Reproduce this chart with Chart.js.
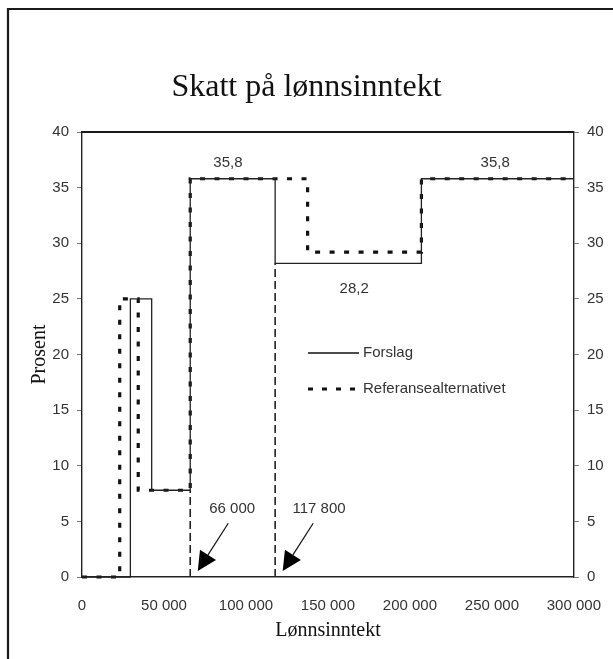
<!DOCTYPE html>
<html lang="no">
<head>
<meta charset="utf-8">
<title>Skatt på lønnsinntekt</title>
<script src="https://cdn.jsdelivr.net/npm/chart.js@4.4.1/dist/chart.umd.min.js"></script>
<style>
  html, body { margin: 0; padding: 0; background: #fff; }
  #wrap { width: 613px; height: 659px; position: relative; }
</style>
</head>
<body>
<div id="wrap"><canvas id="chart"></canvas></div>
<script>
// Step series: value holds from each x until the next one
const forslagX = [0, 29500, 42500, 66000, 117800, 207000, 300000];
const forslagY = [0, 25, 7.8, 35.8, 28.2, 35.8, 35.8];
const referanseX = [0, 23000, 34300, 66000, 137600, 207000, 300000];
const referanseY = [0, 25, 7.8, 35.8, 29.2, 35.8, 35.8];

// Thresholds marked with dashed guide lines and arrows
const thresholdX = [66000, 117800];
const thresholdTop = [7.8, 28.2];
const thresholdLabels = ["66 000", "117 800"];

const valueLabels = ["35,8", "28,2", "35,8"];
const yTicks = [0, 5, 10, 15, 20, 25, 30, 35, 40];

const SANS = "'Liberation Sans', Arial, sans-serif";
const SERIF = "'Liberation Serif', 'Times New Roman', serif";

// hold each value until the next x, so the jump sits at the next point
function toSteps(xs, ys) {
  const pts = [];
  xs.forEach((x, i) => {
    if (i > 0) pts.push({ x, y: ys[i - 1] });
    pts.push({ x, y: ys[i] });
  });
  return pts;
}

function formatThousands(v) {
  return String(v).replace(/\B(?=(\d{3})+(?!\d))/g, " ");
}

// where the annotations sit, in data units
const valueLabelPos = [
  { x: 89000, y: 37.2 },
  { x: 166000, y: 25.9 },
  { x: 252000, y: 37.2 },
];
const arrowPos = [
  { label: { x: 91600, y: 6.1 }, from: { x: 89200, y: 4.83 }, to: { x: 70600, y: 0.55 } },
  { label: { x: 144600, y: 6.1 }, from: { x: 141000, y: 4.83 }, to: { x: 122400, y: 0.55 } },
];

const pageFrame = {
  id: "pageFrame",
  beforeDraw(chart) {
    const ctx = chart.ctx;
    ctx.save();
    ctx.fillStyle = "#fff";
    ctx.fillRect(0, 0, chart.width, chart.height);
    ctx.strokeStyle = "#1a1a1a";
    ctx.lineWidth = 2.2;
    ctx.beginPath();
    ctx.moveTo(8, chart.height + 2);
    ctx.lineTo(8, 9);
    ctx.lineTo(chart.width + 2, 9);
    ctx.stroke();
    ctx.restore();
  },
  beforeDatasetsDraw(chart) {
    const { ctx, chartArea: a } = chart;
    ctx.save();
    ctx.strokeStyle = "#1a1a1a";
    ctx.lineWidth = 1.8;
    ctx.beginPath();
    ctx.moveTo(a.left, a.top);
    ctx.lineTo(a.right, a.top);
    ctx.stroke();
    ctx.restore();
  },
};

function drawArrow(ctx, x1, y1, x2, y2) {
  const ang = Math.atan2(y2 - y1, x2 - x1);
  const headLen = 19;
  const halfW = 9.5;
  const bx = x2 - headLen * Math.cos(ang);
  const by = y2 - headLen * Math.sin(ang);
  ctx.beginPath();
  ctx.moveTo(x1, y1);
  ctx.lineTo(bx, by);
  ctx.stroke();
  ctx.beginPath();
  ctx.moveTo(x2, y2);
  ctx.lineTo(bx + halfW * Math.sin(ang), by - halfW * Math.cos(ang));
  ctx.lineTo(bx - halfW * Math.sin(ang), by + halfW * Math.cos(ang));
  ctx.closePath();
  ctx.fill();
}

const annotations = {
  id: "annotations",
  afterDatasetsDraw(chart) {
    const { ctx, chartArea: a } = chart;
    const xs = chart.scales.x;
    const ys = chart.scales.y;
    ctx.save();
    ctx.font = `15px ${SANS}`;
    ctx.fillStyle = "#333";
    ctx.textAlign = "center";
    ctx.textBaseline = "middle";
    valueLabels.forEach((t, i) => {
      const p = valueLabelPos[i];
      ctx.fillText(t, xs.getPixelForValue(p.x), ys.getPixelForValue(p.y));
    });

    ctx.strokeStyle = "#111";
    ctx.lineWidth = 1.2;
    arrowPos.forEach((ap, i) => {
      ctx.fillStyle = "#333";
      ctx.fillText(thresholdLabels[i], xs.getPixelForValue(ap.label.x), ys.getPixelForValue(ap.label.y));
      ctx.fillStyle = "#000";
      drawArrow(
        ctx,
        xs.getPixelForValue(ap.from.x), ys.getPixelForValue(ap.from.y),
        xs.getPixelForValue(ap.to.x), ys.getPixelForValue(ap.to.y)
      );
    });

    // legend inside the plot
    const lx = a.left + 226;
    const rows = [
      { text: chart.data.datasets[0].label, y: a.top + 221, width: 1.3, dash: [] },
      { text: chart.data.datasets[1].label, y: a.top + 257, width: 3.2, dash: [5, 9] },
    ];
    rows.forEach((r) => {
      ctx.strokeStyle = "#111";
      ctx.lineWidth = r.width;
      ctx.setLineDash(r.dash);
      ctx.beginPath();
      ctx.moveTo(lx, r.y);
      ctx.lineTo(lx + 51, r.y);
      ctx.stroke();
      ctx.setLineDash([]);
      ctx.fillStyle = "#333";
      ctx.textAlign = "left";
      ctx.fillText(r.text, lx + 55, r.y);
    });
    ctx.restore();
  },
};

const guideSets = thresholdX.map((x, i) => ({
  label: "guide",
  data: [{ x, y: 0 }, { x, y: thresholdTop[i] }],
  borderColor: "#222",
  borderWidth: 1.6,
  borderDash: [8, 4],
  pointRadius: 0,
  fill: false,
  clip: 4,
}));

const yAxisBase = {
  type: "linear",
  min: 0,
  max: 40,
  afterBuildTicks(scale) {
    scale.ticks = yTicks.map((v) => ({ value: v }));
  },
  ticks: { color: "#333", font: { family: SANS, size: 15 }, padding: 8 },
  grid: { display: true, drawOnChartArea: false, drawTicks: true, tickLength: 5, color: "#777", lineWidth: 1 },
  border: { display: true, color: "#222", width: 1.4 },
};

new Chart(document.getElementById("chart"), {
  type: "line",
  data: {
    datasets: [
      {
        label: "Forslag",
        data: toSteps(forslagX, forslagY),
        borderColor: "#222",
        borderWidth: 1.3,
        pointRadius: 0,
        tension: 0,
        fill: false,
        clip: 4,
      },
      {
        label: "Referansealternativet",
        data: toSteps(referanseX, referanseY),
        borderColor: "#111",
        borderWidth: 3.2,
        borderDash: [5, 9.5],
        pointRadius: 0,
        tension: 0,
        fill: false,
        clip: 4,
      },
      ...guideSets,
    ],
  },
  options: {
    responsive: true,
    maintainAspectRatio: false,
    animation: false,
    layout: { padding: 0 },
    plugins: {
      legend: { display: false },
      tooltip: { enabled: false },
      title: {
        display: true,
        text: "Skatt på lønnsinntekt",
        color: "#111",
        font: { family: SERIF, size: 32, weight: "normal", lineHeight: 1.2 },
        padding: { top: 68, bottom: 25.6 },
      },
    },
    scales: {
      x: {
        type: "linear",
        min: 0,
        max: 300000,
        afterFit(scale) { scale.height = 82; },
        ticks: {
          stepSize: 50000,
          color: "#333",
          font: { family: SANS, size: 15 },
          padding: 12,
          maxRotation: 0,
          callback: (v) => formatThousands(v),
        },
        grid: { display: false },
        border: { display: true, color: "#222", width: 1.6 },
        title: {
          display: true,
          text: "Lønnsinntekt",
          color: "#111",
          font: { family: SERIF, size: 20, lineHeight: 1.2 },
          padding: { top: 0, bottom: 16 },
        },
      },
      y: {
        ...yAxisBase,
        position: "left",
        afterFit(scale) { scale.width = 82; },
        title: {
          display: true,
          text: "Prosent",
          color: "#111",
          font: { family: SERIF, size: 20, lineHeight: 1.2 },
          padding: { top: 28, bottom: 0 },
        },
      },
      y2: {
        ...yAxisBase,
        position: "right",
        afterFit(scale) { scale.width = 39; },
      },
    },
  },
  plugins: [pageFrame, annotations],
});
</script>
</body>
</html>
